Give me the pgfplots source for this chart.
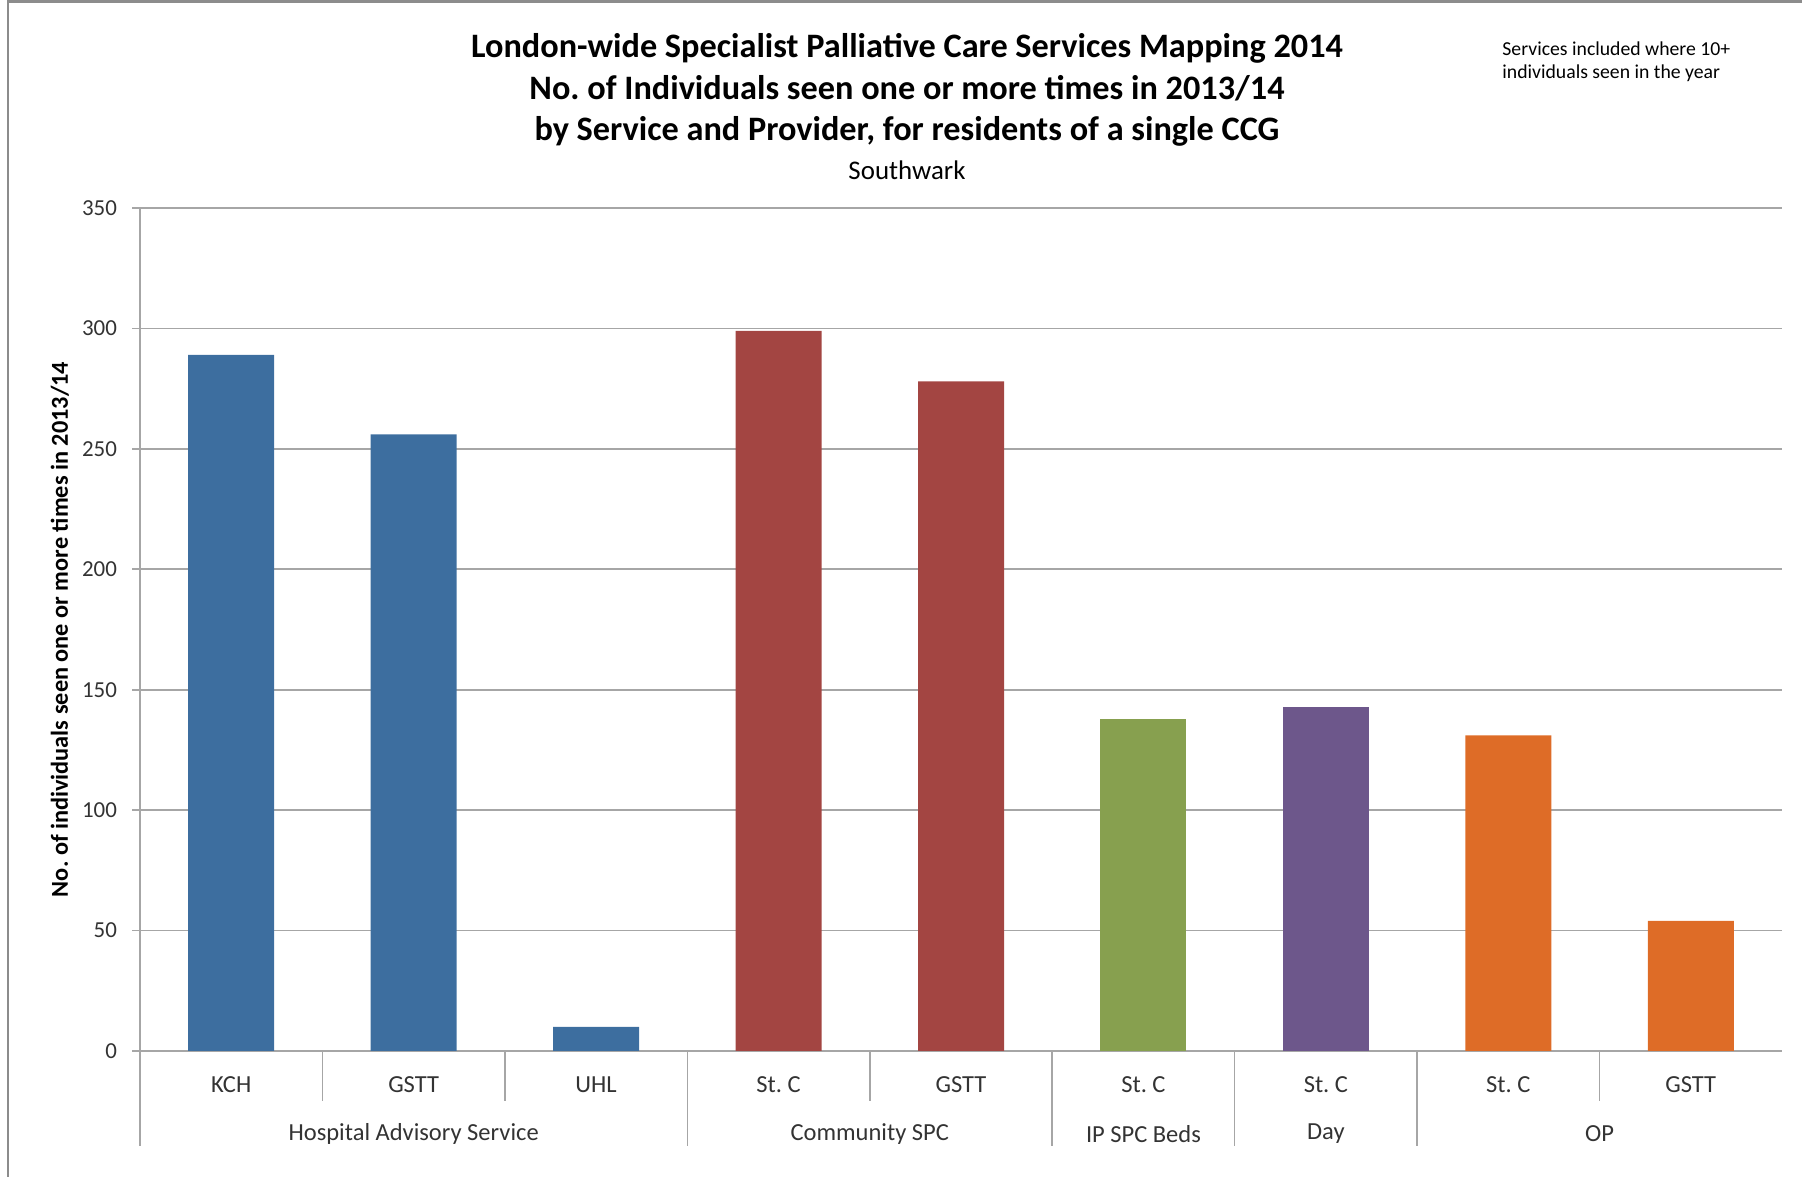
\documentclass[border=0pt]{standalone}
\usepackage{fontspec}
\setmainfont{Carlito}
\usepackage{pgfplots}
\pgfplotsset{compat=1.18}
\frenchspacing

\definecolor{hospblue}{HTML}{3D6E9F}
\definecolor{commred}{HTML}{A34542}
\definecolor{ipgreen}{HTML}{87A04F}
\definecolor{daypurple}{HTML}{6D578B}
\definecolor{oporange}{HTML}{DE6C27}
\definecolor{gridgray}{HTML}{A6A6A6}
\definecolor{framegray}{HTML}{8C8C8C}

\begin{document}
\begin{tikzpicture}
\useasboundingbox (0bp,0bp) rectangle (901bp,588.5bp);
% chart frame, cropped at right and bottom
\draw[framegray, line width=1.3bp] (4bp,0bp) -- (4bp,587.6bp) -- (901bp,587.6bp);

% titles
\node[font=\fontsize{17.2}{20}\selectfont\bfseries] at (453.5bp,564.5bp)
  {London-wide Specialist Palliative Care Services Mapping 2014};
\node[font=\fontsize{17.2}{20}\selectfont\bfseries] at (453.5bp,544.5bp)
  {No. of Individuals seen one or more times in 2013/14};
\node[font=\fontsize{17.2}{20}\selectfont\bfseries] at (453.5bp,523bp)
  {by Service and Provider, for residents of a single CCG};
\node[font=\fontsize{13.5}{16}\selectfont] at (453.5bp,503.5bp) {Southwark};
\node[font=\fontsize{9.9}{11.5}\selectfont, align=left, anchor=west, inner sep=0pt]
  at (751bp,557.5bp) {Services included where 10+\\individuals seen in the year};

\begin{axis}[
    at={(70bp,63bp)}, anchor=south west,
    scale only axis,
    width=821bp, height=421.5bp,
    ybar, bar width=43bp,
    xmin=-0.5, xmax=8.5,
    ymin=0, ymax=350,
    ytick={0,50,...,350},
    xtick={0,...,8},
    xticklabels={KCH, GSTT, UHL, St. C, GSTT, St. C, St. C, St. C, GSTT},
    x tick style={draw=none},
    y tick style={gridgray, line width=0.8bp},
    major tick length=4bp,
    tick align=outside,
    ymajorgrids,
    grid style={gridgray, line width=0.8bp},
    axis x line*=bottom, axis y line*=left,
    axis line style={gridgray, line width=0.8bp, -},
    /pgf/number format/assume math mode=true,
    ticklabel style={font=\fontsize{11.5}{14}\selectfont, text=black!80},
    xticklabel style={font=\fontsize{12.3}{14}\selectfont, anchor=center, yshift=-13bp},
    yticklabel style={xshift=-4bp},
    ylabel={No. of individuals seen one or more times in 2013/14},
    every axis y label/.style={at={(rel axis cs:0,0.5)}, xshift=-40bp, rotate=90,
      anchor=center, font=\fontsize{12.2}{14}\selectfont\bfseries},
    clip=false,
]
\addplot[fill=hospblue, draw=none, bar shift=0pt] coordinates {(0,289) (1,256) (2,10)};
\addplot[fill=commred, draw=none, bar shift=0pt] coordinates {(3,299) (4,278)};
\addplot[fill=ipgreen, draw=none, bar shift=0pt] coordinates {(5,138)};
\addplot[fill=daypurple, draw=none, bar shift=0pt] coordinates {(6,143)};
\addplot[fill=oporange, draw=none, bar shift=0pt] coordinates {(7,131) (8,54)};

% category dividers
\pgfplotsinvokeforeach{0.5,1.5,3.5,7.5}{
  \draw[gridgray, line width=0.8bp] (axis cs:#1,0) -- ++(0pt,-25bp);
}
\pgfplotsinvokeforeach{-0.5,2.5,4.5,5.5,6.5}{
  \draw[gridgray, line width=0.8bp] (axis cs:#1,0) -- ++(0pt,-47.5bp);
}
% group labels
\node[font=\fontsize{12.3}{14}\selectfont, text=black!80, yshift=-41.5bp] at (axis cs:1,0) {Hospital Advisory Service};
\node[font=\fontsize{12.3}{14}\selectfont, text=black!80, yshift=-41.5bp] at (axis cs:3.5,0) {Community SPC};
\node[font=\fontsize{12.3}{14}\selectfont, text=black!80, yshift=-41.5bp] at (axis cs:5,0) {IP SPC Beds};
\node[font=\fontsize{12.3}{14}\selectfont, text=black!80, yshift=-41.5bp] at (axis cs:6,0) {Day};
\node[font=\fontsize{12.3}{14}\selectfont, text=black!80, yshift=-41.5bp] at (axis cs:7.5,0) {OP};
\end{axis}
\end{tikzpicture}
\end{document}
